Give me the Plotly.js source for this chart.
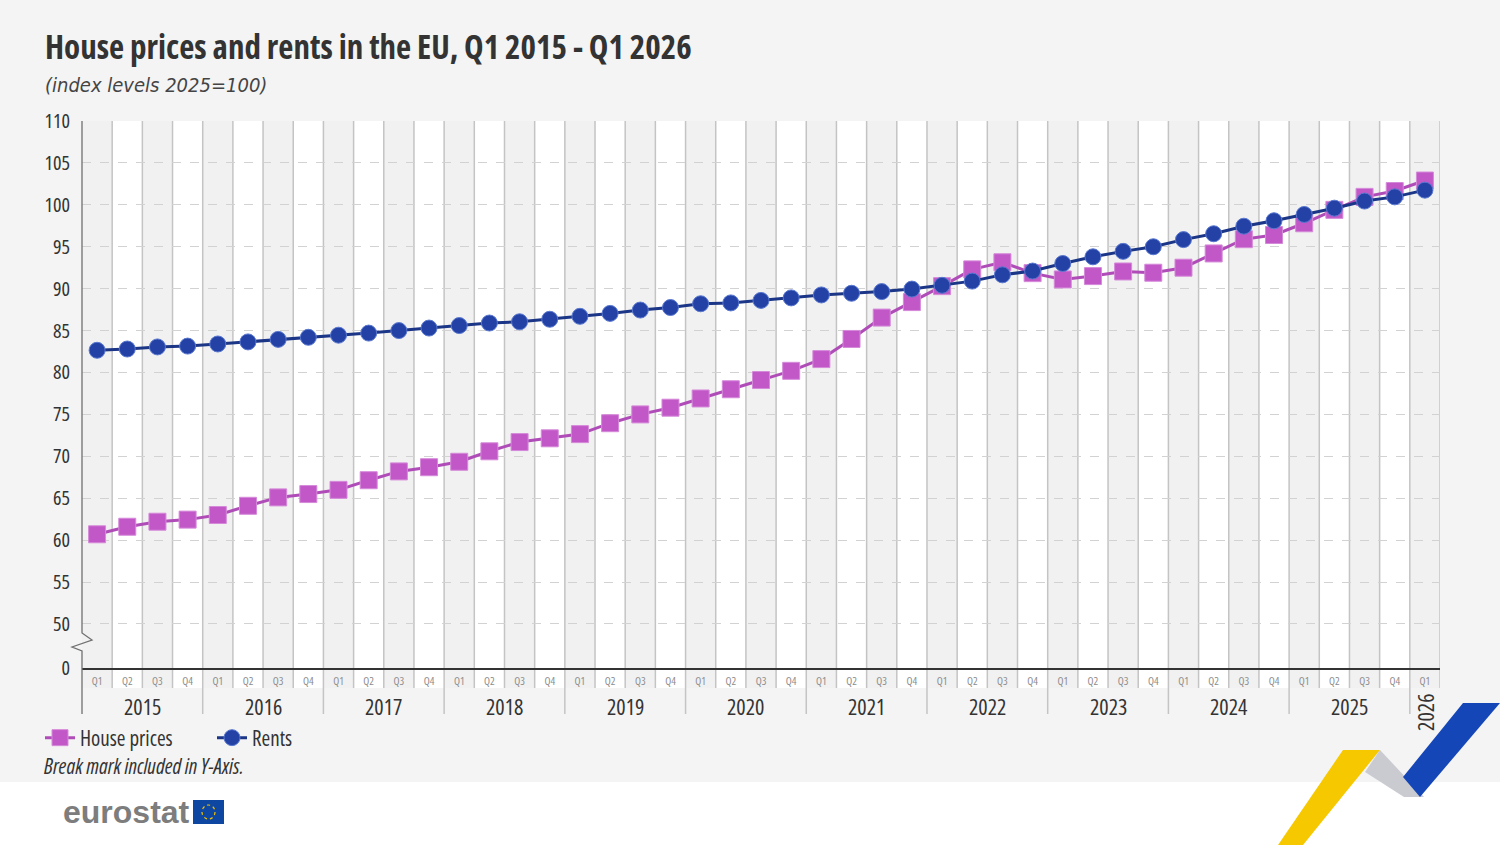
<!DOCTYPE html>
<html>
<head>
<meta charset="utf-8">
<script src="https://cdn.plot.ly/plotly-3.0.1.min.js"></script>
<style>
html,body{margin:0;padding:0;background:#fff;}
#chart{width:1500px;height:845px;}
svg text{font-stretch:condensed !important;}
</style>
</head>
<body>
<div id="chart"></div>
<script>
// ---- data ----
const quarterLabels = ["Q1","Q2","Q3","Q4","Q1","Q2","Q3","Q4","Q1","Q2","Q3","Q4","Q1","Q2","Q3","Q4","Q1","Q2","Q3","Q4","Q1","Q2","Q3","Q4","Q1","Q2","Q3","Q4","Q1","Q2","Q3","Q4","Q1","Q2","Q3","Q4","Q1","Q2","Q3","Q4","Q1","Q2","Q3","Q4","Q1"];
const yearLabels = ["2015","2016","2017","2018","2019","2020","2021","2022","2023","2024","2025"];
const lastYearLabel = "2026";
const housePrices = [60.7,61.6,62.2,62.45,63.0,64.1,65.1,65.5,66.0,67.15,68.2,68.7,69.35,70.6,
  71.7,72.15,72.65,73.95,75.0,75.8,76.9,78.0,79.1,80.2,81.6,84.0,86.55,88.4,90.3,92.3,
  93.15,91.85,91.1,91.5,92.05,91.9,92.5,94.2,95.9,96.4,97.8,99.4,100.95,101.65,102.9];
const rents = [82.65,82.8,83.05,83.15,83.4,83.65,83.95,84.2,84.45,84.7,85.0,85.3,85.6,85.9,
  86.05,86.35,86.7,87.05,87.45,87.75,88.2,88.3,88.6,88.9,89.25,89.45,89.65,89.95,90.4,90.9,
  91.65,92.1,93.0,93.8,94.45,95.0,95.85,96.55,97.45,98.1,98.85,99.6,100.45,100.95,101.75];
const yTickLabels = ["0","50","55","60","65","70","75","80","85","90","95","100","105","110"];
const yTickValues = [44.75,50,55,60,65,70,75,80,85,90,95,100,105,110];

// ---- geometry helpers (layout only) ----
const W = 1500, H = 845, ML = 82, MR = 60, MT = 121, MB = 177;
const PW = W - ML - MR, PH = H - MT - MB;
const px = v => (v - ML) / PW;
const py = v => (H - MB - v) / PH;

const xIdx = quarterLabels.map((_, i) => i);
const FONT = "Open Sans, DejaVu Sans, sans-serif";

const shapes = [];
shapes.push({type:'rect', xref:'paper', yref:'paper', x0:px(0), x1:px(W), y0:py(782), y1:py(0),
  fillcolor:'#f4f4f4', line:{width:0}, layer:'below'});
shapes.push({type:'rect', xref:'paper', yref:'paper', x0:0, x1:1, y0:py(688), y1:0,
  fillcolor:'#ffffff', line:{width:0}, layer:'below'});
xIdx.forEach(i => {
  shapes.push({type:'rect', xref:'x', yref:'paper', x0:i-0.5, x1:i+0.5, y0:py(688), y1:1,
    fillcolor: i % 2 === 0 ? '#f1f1f1' : '#ffffff', line:{width:0}, layer:'below'});
});
for (let k = 1; k <= quarterLabels.length; k++) {
  const isYear = (k % 4 === 0);
  shapes.push({type:'line', xref:'x', yref:'paper', x0:k-0.5, x1:k-0.5,
    y0: isYear ? py(714) : py(688), y1:1,
    line:{color:'#c4c4c4', width:1.5}, layer:'below'});
}
// left axis line with break mark
shapes.push({type:'path', xref:'paper', yref:'paper',
  path:`M ${px(82)} ${py(121)} L ${px(82)} ${py(633)} L ${px(92)} ${py(640)} L ${px(72)} ${py(647)} L ${px(82)} ${py(651)} L ${px(82)} ${py(714)}`,
  line:{color:'#707070', width:1.3}});
// EU flag
shapes.push({type:'rect', xref:'paper', yref:'paper', x0:px(193), x1:px(224), y0:py(824), y1:py(800),
  fillcolor:'#0e47a1', line:{width:0}});
shapes.push({type:'circle', xref:'paper', yref:'paper', x0:px(202), x1:px(215), y0:py(819), y1:py(805),
  fillcolor:'rgba(0,0,0,0)', line:{color:'#f2c200', width:1.2, dash:'dot'}});
// decorative ribbons
const poly = pts => 'M ' + pts.map(p => px(p[0]) + ' ' + py(p[1])).join(' L ') + ' Z';
shapes.push({type:'path', xref:'paper', yref:'paper',
  path: poly([[1278,845],[1343,750],[1380,750],[1303,845]]), fillcolor:'#f6c800', line:{width:0}});
shapes.push({type:'path', xref:'paper', yref:'paper',
  path: poly([[1365,772],[1380,750],[1424,797],[1404,797]]), fillcolor:'#c9cbd1', line:{width:0}});
shapes.push({type:'path', xref:'paper', yref:'paper',
  path: poly([[1403,777],[1463,703],[1500,703],[1420,797]]), fillcolor:'#1546b8', line:{width:0}});

const annotations = [
  {xref:'paper', yref:'paper', x:px(43), y:py(47), xanchor:'left', yanchor:'middle', showarrow:false,
   text:'<b>House prices and rents in the EU, Q1 2015 - Q1 2026</b>', font:{family:FONT, size:33, color:'#333'}},
  {xref:'paper', yref:'paper', x:px(43), y:py(85), xanchor:'left', yanchor:'middle', showarrow:false,
   text:'<i>(index levels 2025=100)</i>', font:{family:'DejaVu Sans, sans-serif', size:20, color:'#444'}},
  {xref:'paper', yref:'paper', x:px(42), y:py(766), xanchor:'left', yanchor:'middle', showarrow:false,
   text:'<i>Break mark included in Y-Axis.</i>', font:{family:FONT, size:21, color:'#333'}},
  {xref:'paper', yref:'paper', x:px(61), y:py(812), xanchor:'left', yanchor:'middle', showarrow:false,
   text:'<b>eurostat</b>', font:{family:'Liberation Sans, Arial, sans-serif', size:32, color:'#7d7d7d'}}
];
yearLabels.forEach((y, j) => {
  annotations.push({xref:'x', yref:'paper', x:4*j+1.5, y:py(706), xanchor:'center', yanchor:'middle',
    showarrow:false, text:y, font:{family:FONT, size:22, color:'#333'}});
});
annotations.push({xref:'x', yref:'paper', x:quarterLabels.length-1, y:py(712), xanchor:'center', yanchor:'middle',
  showarrow:false, textangle:-90, text:lastYearLabel, font:{family:FONT, size:22, color:'#333'}});

const traces = [
  {x:xIdx, y:housePrices, name:'House prices', type:'scatter', mode:'lines+markers',
   line:{color:'#b04cb8', width:3}, marker:{symbol:'square', size:17, color:'#c257c8', line:{color:'#d58ad9', width:1}}},
  {x:xIdx, y:rents, name:'Rents', type:'scatter', mode:'lines+markers',
   line:{color:'#1b3587', width:3}, marker:{symbol:'circle', size:16, color:'#2442a6', line:{color:'#5a78d0', width:1}}}
];

const layout = {
  width:W, height:H,
  margin:{l:ML, r:MR, t:MT, b:MB, pad:0},
  paper_bgcolor:'#ffffff', plot_bgcolor:'rgba(0,0,0,0)',
  showlegend:true,
  legend:{orientation:'h', x:px(40), y:py(738), xanchor:'left', yanchor:'middle',
    bgcolor:'rgba(0,0,0,0)', font:{family:FONT, size:21, color:'#333'},
    entrywidth:127, entrywidthmode:'pixels'},
  xaxis:{range:[-0.5, quarterLabels.length-0.5], tickvals:xIdx, ticktext:quarterLabels,
    showgrid:false, zeroline:false, showline:true, linecolor:'#333', linewidth:1.5,
    ticks:'', tickfont:{family:FONT, size:11, color:'#8c8c8c'}, ticklabelstandoff:2, fixedrange:true},
  yaxis:{range:[44.75, 110], tickvals:yTickValues, ticktext:yTickLabels,
    showgrid:true, gridcolor:'#d2d2d2', griddash:'dash', gridwidth:1, zeroline:false,
    showline:false, ticks:'', tickfont:{family:FONT, size:20, color:'#333'}, ticklabelstandoff:11, fixedrange:true},
  shapes:shapes,
  annotations:annotations
};

Plotly.newPlot('chart', traces, layout, {displayModeBar:false, staticPlot:true});
</script>
</body>
</html>
